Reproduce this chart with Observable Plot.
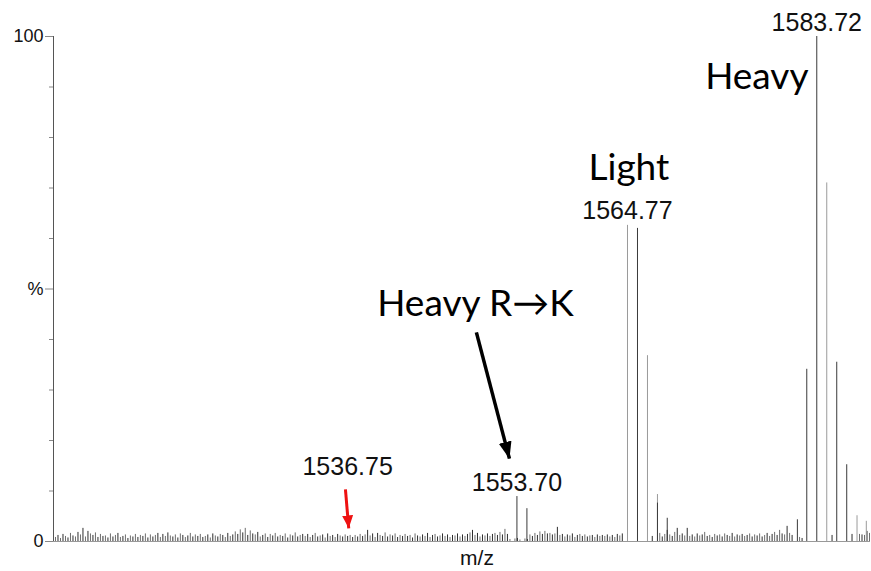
<!DOCTYPE html>
<html>
<head>
<meta charset="utf-8">
<script src="https://cdn.jsdelivr.net/npm/d3@7"></script>
<script src="https://cdn.jsdelivr.net/npm/@observablehq/plot@0.6"></script>
<style>
  html, body { margin: 0; padding: 0; background: #fff; }
  #chart svg { display: block; font-family: "Liberation Sans", Arial, sans-serif; }
</style>
</head>
<body>
<div id="chart"></div>
<script>
// ---- data ----
const mzDomain = [1507.3, 1589.1];
const yTicksMajor = [0, 50, 100];
const yTickLabels = ["0", "%", "100"];
const yTicksMinor = [10, 20, 30, 40, 60, 70, 80, 90];

// main isotope peaks (m/z, relative intensity %, shade)
const peakMz    = [1553.70, 1554.70, 1564.77, 1565.77, 1566.77, 1567.77, 1567.77, 1568.75, 1581.78, 1582.72, 1583.72, 1584.72, 1585.72, 1586.72, 1587.75, 1588.68];
const peakInt   = [8.9,     6.5,     62.6,    62.0,    36.8,    9.3,     7.6,     4.6,     4.3,     34.1,    100,     71.0,    35.5,    15.2,    5.1,     4.0];
const peakShade = ["dark",  "dark",  "light", "dark",  "light", "light", "dark",  "dark",  "dark",  "dark",  "dark",  "light", "dark",  "dark",  "light", "light"];

// baseline noise, sampled every 0.25 m/z from 1507.5
const noiseStart = 1507.5;
const noiseStep = 0.25;
const noiseInt = [
  0.8,1.2,0.6,1.4,1.0,0.7,1.6,1.1,0.9,1.8,1.3,2.6,0.9,2.0,1.5,1.2,1.7,0.8,1.4,1.0,
  1.1,0.7,1.5,0.9,1.2,1.6,0.8,1.0,1.3,0.6,1.1,0.9,1.4,0.8,1.2,1.0,1.5,0.7,1.3,0.9,
  1.2,1.6,0.8,1.4,1.0,1.7,1.1,0.9,1.3,0.7,1.5,1.2,0.8,1.1,1.6,0.9,1.3,1.0,1.4,0.8,
  1.0,1.3,0.7,1.5,1.1,0.9,1.4,1.2,0.8,1.6,1.0,1.3,1.9,1.4,2.3,1.7,2.6,1.2,2.1,1.5,
  1.3,1.8,0.9,1.2,1.5,0.8,1.4,1.1,1.6,0.9,1.2,1.0,1.5,0.7,1.3,1.1,1.7,0.9,1.2,1.4,
  1.0,1.4,0.8,1.2,1.6,0.9,1.1,1.3,0.7,1.5,1.0,1.2,0.8,1.4,1.1,0.9,1.3,1.0,1.2,0.8,
  1.2,0.9,1.4,1.0,1.3,2.2,1.1,1.5,0.8,1.6,1.2,1.0,1.7,0.9,1.3,1.1,1.5,0.8,1.2,1.0,
  1.4,1.0,1.2,0.7,1.5,1.1,0.9,1.3,1.0,1.6,0.8,1.2,1.4,0.9,1.1,1.5,1.0,1.3,0.8,1.2,
  1.1,1.5,0.9,1.3,1.0,1.4,1.7,2.2,1.2,1.6,0.9,1.3,1.1,1.5,1.0,1.4,1.6,1.2,1.8,1.3,
  2.4,1.4,0.4,0,0.5,0.6,0.3,0,0.5,0.4,1.3,1.0,1.6,1.2,1.9,1.4,2.0,1.5,1.6,1.3,
  1.5,2.8,1.2,1.4,0.9,1.3,1.1,1.5,0.8,1.2,1.4,1.0,1.3,0.9,1.1,1.2,0.8,1.3,1.0,1.2,
  1.0,1.3,0.9,1.2,0.8,1.4,1.1,1.5,0,0,0,0,0,0,0,0,0,0,0,1.0,
  0,0,1.6,0.9,1.4,2.2,1.3,1.0,1.8,2.6,1.2,1.5,1.1,2.6,1.0,1.3,0.9,1.5,1.1,1.3,
  1.8,1.0,1.2,0.8,1.4,1.1,1.3,0.9,1.5,1.2,1.0,1.6,0.9,1.3,1.1,1.4,1.0,1.2,1.5,0.9,
  1.3,1.1,1.5,0.9,1.2,1.6,1.0,1.4,1.8,1.2,2.2,1.5,1.3,3.0,1.6,1.2,0,0,0.8,0.6,
  0,0,0,0,0,0,0,0,0,0,0,1.2,0,0,0,0,0,0,0,1.4,
  0,0,1.4,1.3,1.2,2.0,1.6
];

// labelled peaks
const peakLabelText = ["1553.70", "1564.77", "1583.72"];

// annotations
const groupNames = ["Heavy R\u2192K", "Light", "Heavy"];
const groupMz    = [1549.55, 1564.91, 1577.72];
const groupY     = [44.6, 71.5, 89.7];

const markLabelText = ["1536.75"];
const markLabelMz   = [1536.75];
const markLabelY    = [13.1];

const blackArrow = {mz1: 1549.64, y1: 41.4, mz2: 1552.95, y2: 16.4};
const redArrow   = {mz1: 1536.53, y1: 10.3, mz2: 1536.86, y2: 2.6};

// ---- build tables ----
const peaks = peakMz.map((mz, i) => ({mz, v: peakInt[i], shade: peakShade[i]}));
const noise = noiseInt.map((v, i) => ({mz: noiseStart + i * noiseStep, v, shade: i % 2 ? "ndark" : "nlight"}));
const peakLabels = peakLabelText.map(t => {
  const mz = +t;
  const p = peaks.find(d => Math.abs(d.mz - mz) < 0.02);
  return {mz, v: p.v, text: t};
});
const groups = groupNames.map((t, i) => ({text: t, mz: groupMz[i], y: groupY[i]}));
const markLabels = markLabelText.map((t, i) => ({text: t, mz: markLabelMz[i], y: markLabelY[i]}));

const shadeColor = {dark: "#3a3a3a", light: "#9a9a9a", ndark: "#2e2e2e", nlight: "#6e6e6e"};

function headMarker(len, half) {
  return (color) => {
    const m = d3.create("svg:marker")
      .attr("viewBox", `${-len} ${-half} ${len} ${2 * half}`)
      .attr("markerUnits", "userSpaceOnUse")
      .attr("markerWidth", len)
      .attr("markerHeight", 2 * half)
      .attr("refX", 0).attr("refY", 0)
      .attr("orient", "auto")
      .attr("fill", color)
      .attr("stroke", "none");
    m.append("path").attr("d", `M${-len},${-half}L0,0L${-len},${half}Z`);
    return m.node();
  };
}

const chart = Plot.plot({
  width: 871,
  height: 571,
  marginLeft: 53,
  marginRight: 1,
  marginTop: 36,
  marginBottom: 30,
  x: {domain: mzDomain, axis: null},
  y: {domain: [0, 100], axis: null},
  marks: [
    // noise
    Plot.ruleX(noise, {x: "mz", y1: 0, y2: "v", stroke: d => shadeColor[d.shade], strokeWidth: 1}),
    // peaks
    Plot.ruleX(peaks, {x: "mz", y1: 0, y2: "v", stroke: d => shadeColor[d.shade], strokeWidth: 1}),
    // baseline
    Plot.ruleY([0], {stroke: "#999"}),
    // y axis
    Plot.ruleX([mzDomain[0]], {y1: 0, y2: 100, stroke: "#555"}),
    Plot.ruleY(yTicksMinor, {x1: mzDomain[0], x2: mzDomain[0], insetLeft: -4, stroke: "#888"}),
    Plot.axisY(yTicksMajor, {tickSize: 8, tickPadding: 2, stroke: "#888", fill: "#111", fontSize: 18,
      tickFormat: d => yTickLabels[yTicksMajor.indexOf(d)]}),
    // x label
    Plot.text(["m/z"], {frameAnchor: "bottom", dx: 15, dy: 23, lineAnchor: "bottom", fontSize: 21, fill: "#111"}),
    // peak labels
    Plot.text(peakLabels, {x: "mz", y: "v", text: "text", dy: -6, lineAnchor: "bottom", fontSize: 25, fill: "#111"}),
    Plot.text(markLabels, {x: "mz", y: "y", text: "text", lineAnchor: "bottom", fontSize: 25, fill: "#111"}),
    // group labels
    Plot.text(groups, {x: "mz", y: "y", text: "text", lineAnchor: "bottom", fontSize: 37, fill: "#000",
      fontFamily: "Lato, 'Open Sans', sans-serif"}),
    // arrows
    Plot.link([blackArrow], {x1: "mz1", y1: "y1", x2: "mz2", y2: "y2", stroke: "#000", strokeWidth: 3.5,
      markerEnd: headMarker(17, 6.5)}),
    Plot.link([redArrow], {x1: "mz1", y1: "y1", x2: "mz2", y2: "y2", stroke: "#ee1111", strokeWidth: 3,
      markerEnd: headMarker(13, 5.5)})
  ]
});
document.getElementById("chart").appendChild(chart);
</script>
</body>
</html>
